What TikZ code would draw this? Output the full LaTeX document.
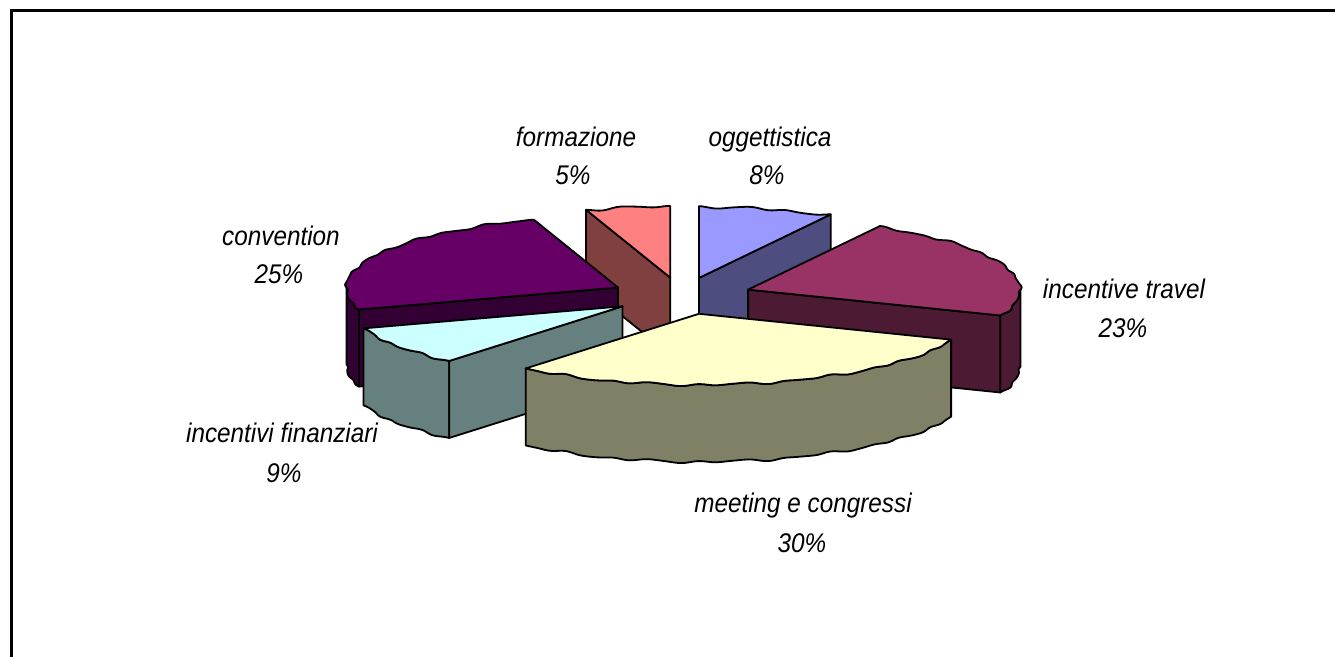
\documentclass[tikz,border=0pt]{standalone}
\usepackage{fontspec}
\newfontfamily\lblfont[FakeStretch=0.9]{Liberation Sans}

% slice colours: top face and darker side walls
\definecolor{oggtop}{HTML}{9999FF}  \definecolor{oggside}{HTML}{4D4D80}
\definecolor{travtop}{HTML}{993366} \definecolor{travside}{HTML}{4D1A33}
\definecolor{meettop}{HTML}{FFFFCC} \definecolor{meetside}{HTML}{808066}
\definecolor{fintop}{HTML}{CCFFFF}  \definecolor{finside}{HTML}{668080}
\definecolor{convtop}{HTML}{660066} \definecolor{convside}{HTML}{330033}
\definecolor{formtop}{HTML}{FF8080} \definecolor{formside}{HTML}{804040}

% pie thickness
\def\pieDP{77}

% top face of a slice: apex, start angle, end angle, colour
\newcommand\pietop[4]{%
  \begin{scope}[shift={(#1)}]
  \filldraw[face, fill=#4] (0,0)
    -- plot[domain=#2:#3, samples=160, variable=\t] ({rimx(\t)},{rimy(\t)}) -- cycle;
  \end{scope}}
% curved outer wall of a slice between two angles
\newcommand\pierim[4]{%
  \begin{scope}[shift={(#1)}]
  \filldraw[face, fill=#4]
    plot[domain=#2:#3, samples=160, variable=\t] ({rimx(\t)},{rimy(\t)})
    -- plot[domain=#3:#2, samples=160, variable=\t] ({rimx(\t)},{rimy(\t)-\pieDP}) -- cycle;
  \end{scope}}
% flat radial wall of a slice along one edge
\newcommand\piewall[3]{%
  \begin{scope}[shift={(#1)}]
  \filldraw[face, fill=#3] (0,0) -- ({rimx(#2)},{rimy(#2)})
    -- ++(0,-\pieDP) -- (0,-\pieDP) -- cycle;
  \end{scope}}

\begin{document}
\begin{tikzpicture}[x=1bp, y=1bp,
  declare function={
    wob(\t) = 0.9*sin(37*\t) + 0.6*sin(19*\t + 40) + 0.3*sin(61*\t + 10);
    rimx(\t) = (272 + wob(\t))*cos(\t);
    rimy(\t) = (71 + wob(\t))*sin(\t);
  },
  face/.style={draw=black, line width=1.8bp, line join=round},
  lbl/.style={font=\lblfont\itshape\fontsize{27bp}{32bp}\selectfont,
              anchor=base, inner sep=0pt, text=black},
  frameline/.style={draw=black, line width=2.2bp}]
\useasboundingbox (0,0) rectangle (1335,657);

% chart frame (top and left sides)
\draw[frameline] (11.5,0) -- (11.5,646.5) -- (1335,646.5);

% pie centre and the exploded apex of every slice
\coordinate (C) at (681.3,361.1);
\foreach \nm/\m in {ogg/75.6, trav/19.8, meet/-75.6, fin/-145.8, conv/153, form/99}
  \coordinate (\nm) at ([shift={({71*cos(\m)},{18.5*sin(\m)})}]C);

% formazione 5%
\piewall{form}{108}{formside}
\pietop{form}{90}{108}{formtop}
% oggettistica 8%
\piewall{ogg}{61.2}{oggside}
\pietop{ogg}{61.2}{90}{oggtop}
% convention 25%
\pierim{conv}{180}{198}{convside}
\piewall{conv}{198}{convside}
\pietop{conv}{108}{198}{convtop}
% incentive travel 23%
\pierim{trav}{-21.6}{0}{travside}
\piewall{trav}{-21.6}{travside}
\pietop{trav}{-21.6}{61.2}{travtop}
% incentivi finanziari 9%
\pierim{fin}{-162}{-129.6}{finside}
\piewall{fin}{-129.6}{finside}
\pietop{fin}{-162}{-129.6}{fintop}
% meeting e congressi 30%
\pierim{meet}{-129.6}{-21.6}{meetside}
\pietop{meet}{-129.6}{-21.6}{meettop}

% data labels
\node[lbl] (form-name) at (576,510) {formazione};
\node[lbl] (form-pct)  at (573,472) {5\%};
\node[lbl] (ogg-name)  at (770,510) {oggettistica};
\node[lbl] (ogg-pct)   at (767,472) {8\%};
\node[lbl] (conv-name) at (281,411) {convention};
\node[lbl] (conv-pct)  at (279,373) {25\%};
\node[lbl] (fin-name)  at (282,214) {incentivi finanziari};
\node[lbl] (fin-pct)   at (284,174) {9\%};
\node[lbl] (trav-name) at (1124,358) {incentive travel};
\node[lbl] (trav-pct)  at (1123,319) {23\%};
\node[lbl] (meet-name) at (803,144) {meeting e congressi};
\node[lbl] (meet-pct)  at (802,104) {30\%};
\end{tikzpicture}
\end{document}
